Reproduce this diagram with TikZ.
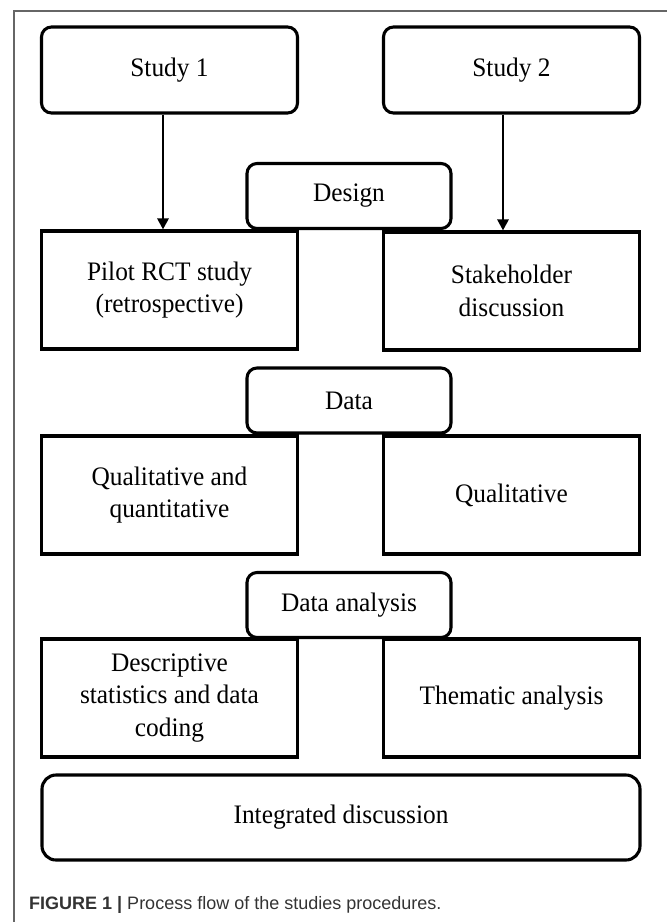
\documentclass[tikz,border=0pt]{standalone}
\usepackage{fontspec}
\setmainfont{Liberation Serif}[FakeStretch=0.95]
\newfontfamily\capfont{Liberation Sans}
\usepackage{xcolor}
\usetikzlibrary{arrows.meta}

\definecolor{capgray}{HTML}{333333}

\begin{document}
\begin{tikzpicture}[x=1pt, y=-1pt, >={Triangle[length=11pt, width=11pt]},
  every node/.style={font=\fontsize{26.7}{32.5}\selectfont},
  study/.style={draw, line width=3.1pt, rounded corners=10pt, align=center, inner sep=0pt, minimum width=256pt, minimum height=86pt},
  box/.style={draw, line width=3.1pt, align=center, inner sep=0pt, minimum width=256pt, minimum height=118pt},
  phase/.style={draw, fill=white, line width=3.1pt, rounded corners=10pt, align=center, inner sep=0pt, minimum width=204pt, minimum height=65pt},
  line/.style={->, line width=2.7pt}]

\useasboundingbox (0,0) rectangle (667,922);
\draw[black!60, line width=1.1pt] (14,922) -- (14,11) -- (667,11);

\node[study] (study1) at (169.5,70) {Study 1};
\node[study] (study2) at (511.5,70) {Study 2};

\node[box] (pilot) at (169.5,290) {Pilot RCT study\\(retrospective)};
\node[box] (stake) at (511.5,291) {Stakeholder\\discussion};
\node[phase] (design) at (349,196) {Design};

\node[box] (mixed) at (169.5,495) {Qualitative and\\quantitative};
\node[box] (qual) at (511.5,495) {Qualitative};
\node[phase] (data) at (349,400.5) {Data};

\node[box] (descr) at (169.5,698) {Descriptive\\statistics and data\\coding};
\node[box] (thematic) at (511.5,698) {Thematic analysis};
\node[phase] (analysis) at (349,605) {Data analysis};

\node[study, rounded corners=14pt, minimum width=598pt, minimum height=85pt] (integ) at (341,817.5) {Integrated discussion};

\draw[line] ([xshift=-6.5pt]study1.south) -- ([xshift=-6.5pt]pilot.north);
\draw[line] ([xshift=-8.5pt]study2.south) -- ([xshift=-8.5pt]stake.north);

\node[anchor=west, inner sep=0pt, text=capgray, font=\capfont\fontsize{18}{20}\selectfont] (caption) at (29,905)
  {\textbf{FIGURE 1} \textbf{|} Process flow of the studies procedures.};
\end{tikzpicture}
\end{document}
